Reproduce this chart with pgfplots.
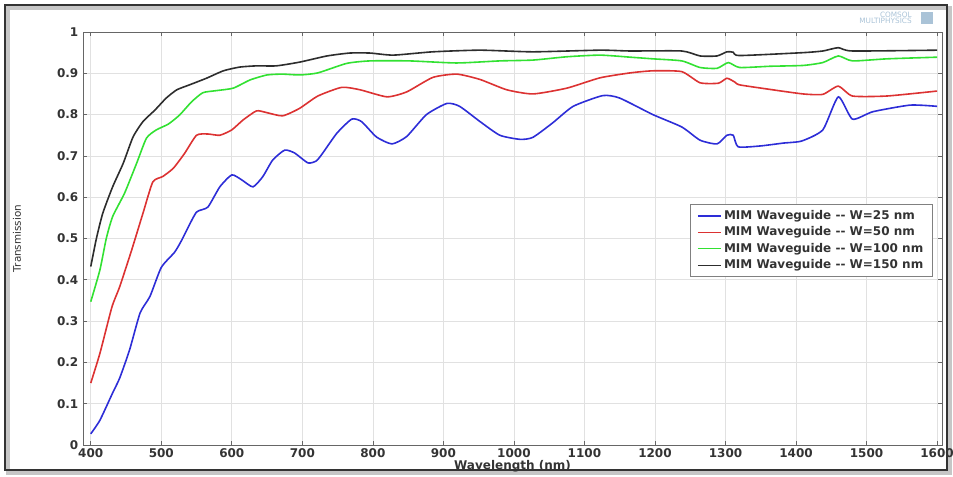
\documentclass[border=0pt]{standalone}
\usepackage{fontspec}
\setmainfont{DejaVu Sans}
\usepackage{pgfplots}
\pgfplotsset{compat=1.18}
\definecolor{cblue}{RGB}{45,45,215}
\definecolor{cred}{RGB}{220,50,50}
\definecolor{cgreen}{RGB}{50,225,50}
\definecolor{cblack}{RGB}{45,45,45}
\definecolor{gridc}{RGB}{225,225,225}
\definecolor{logoc}{RGB}{170,195,215}
\begin{document}
\begin{tikzpicture}[x=0.75pt,y=0.75pt]
\useasboundingbox (0,0) rectangle (953,477);
% outer frame with shadow
\draw[line width=3pt,gray!45] (8,4) rectangle (950,469);
\draw[line width=1.6pt,black!80] (5,7) rectangle (947,472);
\node[font=\fontsize{5.5}{5.5}\selectfont,text=logoc,align=right,inner sep=0pt,anchor=east] at (912,459) {COMSOL\\[-0.5pt]MULTIPHYSICS};
\fill[logoc] (921,453) rectangle (933,465);
\begin{axis}[
  at={(62.25pt,24pt)}, anchor=south west,
  scale only axis, width=644.25pt, height=309.75pt,
  xmin=389, xmax=1607, ymin=0, ymax=1,
  xtick={400,500,...,1600}, ytick={0,0.1,...,1},
  yticklabels={0,0.1,0.2,0.3,0.4,0.5,0.6,0.7,0.8,0.9,1},
  /pgf/number format/assume math mode=true,
  /pgf/number format/1000 sep={},
  tick label style={font=\fontsize{9}{10}\selectfont\bfseries, text=black!80},
  xticklabel style={yshift=1pt},
  grid=major, major grid style={gridc, line width=0.5pt},
  tick align=inside, major tick length=3pt,
  tick style={black!60, line width=0.5pt},
  axis line style={black!60, line width=0.6pt},
  xlabel={Wavelength (nm)},
  xlabel style={font=\fontsize{9}{10}\selectfont\bfseries, text=black!80, yshift=4.5pt},
  ylabel={Transmission},
  ylabel style={font=\fontsize{7.8}{9}\selectfont, text=black!80, at={(axis description cs:-0.0768,0.5)}, anchor=center},
  legend style={at={(axis description cs:0.9895,0.5835)}, anchor=north east,
    draw=black!50, line width=0.6pt, font=\fontsize{9}{10}\selectfont\bfseries,
    text=black!80, row sep=0pt, inner xsep=5pt, inner ysep=2.5pt},
  legend cell align=left,
  legend image post style={line width=0.9pt},
  every axis plot/.append style={line width=1.2pt, smooth, tension=0.35},
]
\addplot[cblue] coordinates {
(400,0.027)(413,0.06)(431,0.126)(441,0.162)(455,0.23)(470,0.32)(484,0.36)(500,0.43)
(519,0.467)(529,0.496)(536,0.52)(550,0.564)(566,0.576)(583,0.625)(600,0.654)(614,0.642)
(630,0.625)(644,0.65)(658,0.69)(675,0.714)(689,0.707)(708,0.683)(720,0.688)(729,0.707)
(749,0.755)(770,0.789)(784,0.783)(805,0.746)(827,0.729)(848,0.747)(876,0.80)(905,0.827)
(923,0.82)(952,0.783)(980,0.75)(1009,0.74)(1027,0.745)(1055,0.78)(1084,0.82)(1126,0.846)
(1150,0.84)(1197,0.80)(1238,0.77)(1264,0.738)(1288,0.729)(1302,0.75)(1311,0.75)(1318,0.722)
(1349,0.724)(1382,0.731)(1408,0.736)(1438,0.763)(1460,0.843)(1480,0.789)(1509,0.807)
(1562,0.823)(1600,0.82)};
\addlegendentry{MIM Waveguide -{}- W=25 nm}
\addplot[cred] coordinates {
(400,0.15)(413,0.222)(430,0.334)(441,0.383)(458,0.472)(474,0.561)(488,0.637)(502,0.65)
(517,0.67)(533,0.706)(550,0.75)(566,0.753)(583,0.75)(600,0.763)(616,0.787)(635,0.809)
(649,0.805)(672,0.797)(696,0.815)(722,0.845)(756,0.866)(782,0.86)(820,0.843)(848,0.855)
(885,0.89)(919,0.898)(952,0.885)(990,0.86)(1027,0.85)(1075,0.864)(1122,0.889)(1165,0.901)
(1197,0.906)(1238,0.904)(1264,0.877)(1290,0.876)(1302,0.888)(1313,0.879)(1320,0.872)
(1363,0.861)(1410,0.85)(1438,0.849)(1460,0.869)(1480,0.845)(1529,0.845)(1600,0.857)};
\addlegendentry{MIM Waveguide -{}- W=50 nm}
\addplot[cgreen] coordinates {
(400,0.347)(413,0.424)(422,0.50)(431,0.553)(448,0.61)(465,0.682)(479,0.743)(493,0.763)
(510,0.777)(526,0.799)(543,0.831)(559,0.853)(578,0.858)(602,0.864)(626,0.884)(650,0.896)
(672,0.898)(696,0.896)(722,0.901)(763,0.924)(796,0.93)(852,0.93)(919,0.925)(980,0.93)
(1027,0.932)(1075,0.94)(1122,0.944)(1165,0.939)(1197,0.935)(1238,0.93)(1264,0.914)
(1288,0.912)(1304,0.926)(1320,0.914)(1363,0.917)(1410,0.919)(1438,0.926)(1460,0.942)
(1480,0.93)(1529,0.935)(1600,0.939)};
\addlegendentry{MIM Waveguide -{}- W=100 nm}
\addplot[cblack] coordinates {
(400,0.432)(408,0.50)(417,0.561)(431,0.625)(446,0.682)(460,0.746)(474,0.783)(491,0.811)
(507,0.84)(522,0.86)(540,0.872)(564,0.888)(588,0.906)(611,0.915)(635,0.918)(663,0.918)
(696,0.927)(735,0.942)(767,0.949)(796,0.949)(829,0.944)(885,0.952)(952,0.956)(1027,0.952)
(1122,0.956)(1165,0.954)(1238,0.954)(1264,0.942)(1288,0.942)(1302,0.952)(1311,0.951)
(1320,0.943)(1410,0.95)(1438,0.954)(1460,0.962)(1480,0.954)(1600,0.956)};
\addlegendentry{MIM Waveguide -{}- W=150 nm}
\end{axis}
\end{tikzpicture}
\end{document}
